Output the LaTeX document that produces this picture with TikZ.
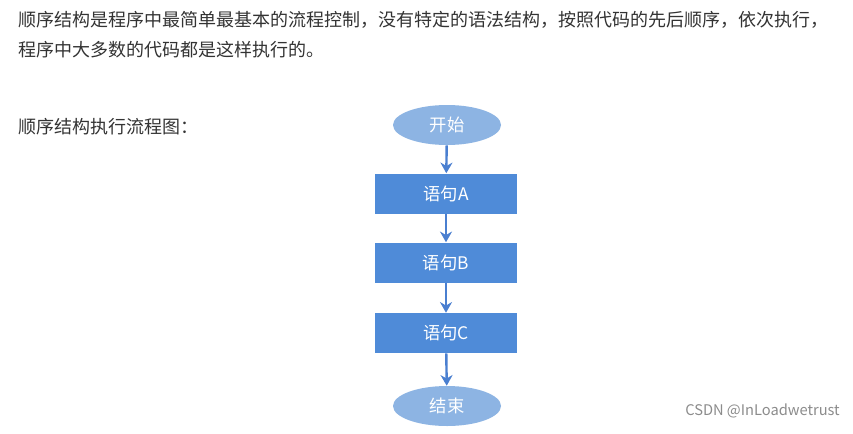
\documentclass[tikz,border=0pt]{standalone}
\usepackage{fontspec}
\setmainfont{Noto Sans CJK SC}
\usetikzlibrary{shapes.geometric,arrows.meta}
\begin{document}
\begin{tikzpicture}[x=0.75pt,y=-0.75pt,
  txt/.style={anchor=west,inner sep=0,text=black!80,font=\fontsize{13.5}{15}\selectfont},
  oval/.style={ellipse,fill=ovalc,minimum width=81pt,minimum height=30pt,inner sep=0,text=white,font=\fontsize{13}{15}\selectfont},
  stmt/.style={rectangle,fill=boxc,minimum width=106.5pt,minimum height=30pt,inner sep=0,text=white,font=\fontsize{13}{15}\selectfont},
  arr/.style={-{Stealth[length=8pt,width=9pt]},line width=1.8pt,draw=arrc}]
\definecolor{ovalc}{HTML}{8DB4E3}
\definecolor{boxc}{HTML}{4F8BD8}
\definecolor{arrc}{HTML}{4A7FD0}
\useasboundingbox (0,0) rectangle (853,433);
\fill[white] (0,0) rectangle (853,433);
\node[txt] (l1) at (18,20) {顺序结构是程序中最简单最基本的流程控制，没有特定的语法结构，按照代码的先后顺序，依次执行，};
\node[txt] (l2) at (18,50) {程序中大多数的代码都是这样执行的。};
\node[txt] (l3) at (18,127) {顺序结构执行流程图：};
\node[oval] (s) at (447,125) {开始};
\node[stmt] (a) at (446,193.5) {语句A};
\node[stmt] (b) at (446,262.5) {语句B};
\node[stmt] (c) at (446,333) {语句C};
\node[oval] (e) at (447,406) {结束};
\draw[arr] (s) -- (a);
\draw[arr] (a) -- (b);
\draw[arr] (b) -- (c);
\draw[arr] (c) -- (e);
\node[anchor=east,inner sep=0,text=black!45,font=\fontsize{11}{13}\selectfont] (w) at (840,411) {CSDN @InLoadwetrust};
\end{tikzpicture}
\end{document}
